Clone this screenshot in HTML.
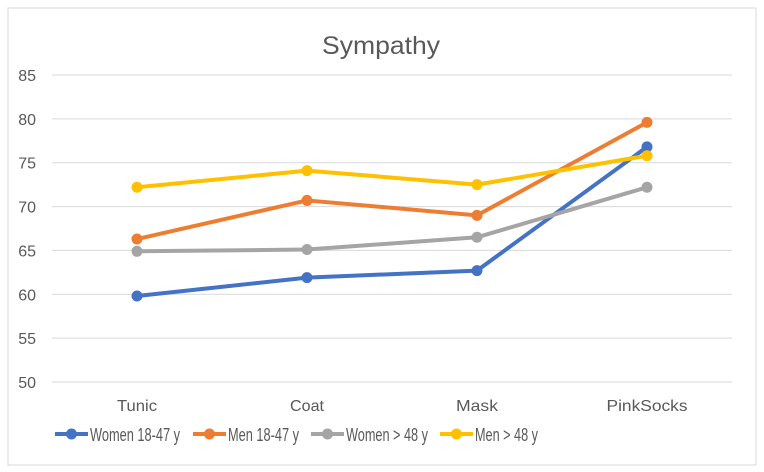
<!DOCTYPE html>
<html><head><meta charset="utf-8"><style>
body{margin:0;background:#fff;}
svg{display:block;font-family:"Liberation Sans",sans-serif;}
</style></head><body>
<svg id="chart" width="764" height="472">
<rect x="8" y="8" width="748" height="457" fill="#fff" stroke="#d9d9d9"/>
<text x="381" y="54" text-anchor="middle" font-size="25" fill="#595959" textLength="118" lengthAdjust="spacingAndGlyphs">Sympathy</text>
<g id="grid"></g><g id="series"></g><g id="legend"></g>
</svg>
<script>
const categories=["Tunic","Coat","Mask","PinkSocks"];
const womenYoung=[59.8,61.9,62.7,76.8];
const menYoung=[66.3,70.7,69.0,79.6];
const womenOld=[64.9,65.1,66.5,72.2];
const menOld=[72.2,74.1,72.5,75.8];
const yTicks=[50,55,60,65,70,75,80,85];
const seriesNames=["Women 18-47 y","Men 18-47 y","Women > 48 y","Men > 48 y"];
const NS="http://www.w3.org/2000/svg";
const x0=52,x1=732,yTop=75,yBot=382;
function ys(v){return yBot-(v-50)/35*(yBot-yTop);}
function xs(i){return x0+(x1-x0)*(i+0.5)/categories.length;}
function mk(tag,attrs,parent){const e=document.createElementNS(NS,tag);for(const k in attrs)e.setAttribute(k,attrs[k]);parent.appendChild(e);return e;}
const grid=document.getElementById('grid');
yTicks.forEach(t=>{
 const l=mk('line',{x1:x0,x2:x1,y1:ys(t),y2:ys(t),stroke:'#d9d9d9','stroke-width':1},grid);
 
 
 const tx=mk('text',{x:36,y:ys(t)+6,'text-anchor':'end','font-size':16,fill:'#595959'},grid);
 tx.textContent=t;
 
 
});
const catW=[40,34,42,81];
categories.forEach((c,i)=>{
 const tx=mk('text',{x:xs(i),y:411,'text-anchor':'middle','font-size':16,fill:'#595959',textLength:catW[i],lengthAdjust:'spacingAndGlyphs'},grid);
 tx.textContent=c;
 
 
});
const data=[womenYoung,menYoung,womenOld,menOld];
const colors=["#4472C4","#ED7D31","#A5A5A5","#FFC000"];
const sg=document.getElementById('series');
data.forEach((d,s)=>{
 const p=mk('polyline',{points:d.map((v,i)=>xs(i)+','+ys(v)).join(' '),fill:'none',stroke:colors[s],'stroke-width':4,'stroke-linejoin':'round'},sg);
 
 
 d.forEach((v,i)=>{
  const c=mk('circle',{cx:xs(i),cy:ys(v),r:5.5,fill:colors[s]},sg);
  
  
 });
});
const lg=document.getElementById('legend');
const lx=[55,193,311,440];
const lw=[90,71,82,63];
seriesNames.forEach((n,s)=>{
 const g=mk('g',{},lg);
 
 
 mk('line',{x1:lx[s],x2:lx[s]+33,y1:434,y2:434,stroke:colors[s],'stroke-width':4},g);
 mk('circle',{cx:lx[s]+16.5,cy:434,r:5.5,fill:colors[s]},g);
 const t=mk('text',{x:lx[s]+35,y:441,'font-size':18,fill:'#595959',textLength:lw[s],lengthAdjust:'spacingAndGlyphs'},g);
 t.textContent=n;
});
</script>
</body></html>
